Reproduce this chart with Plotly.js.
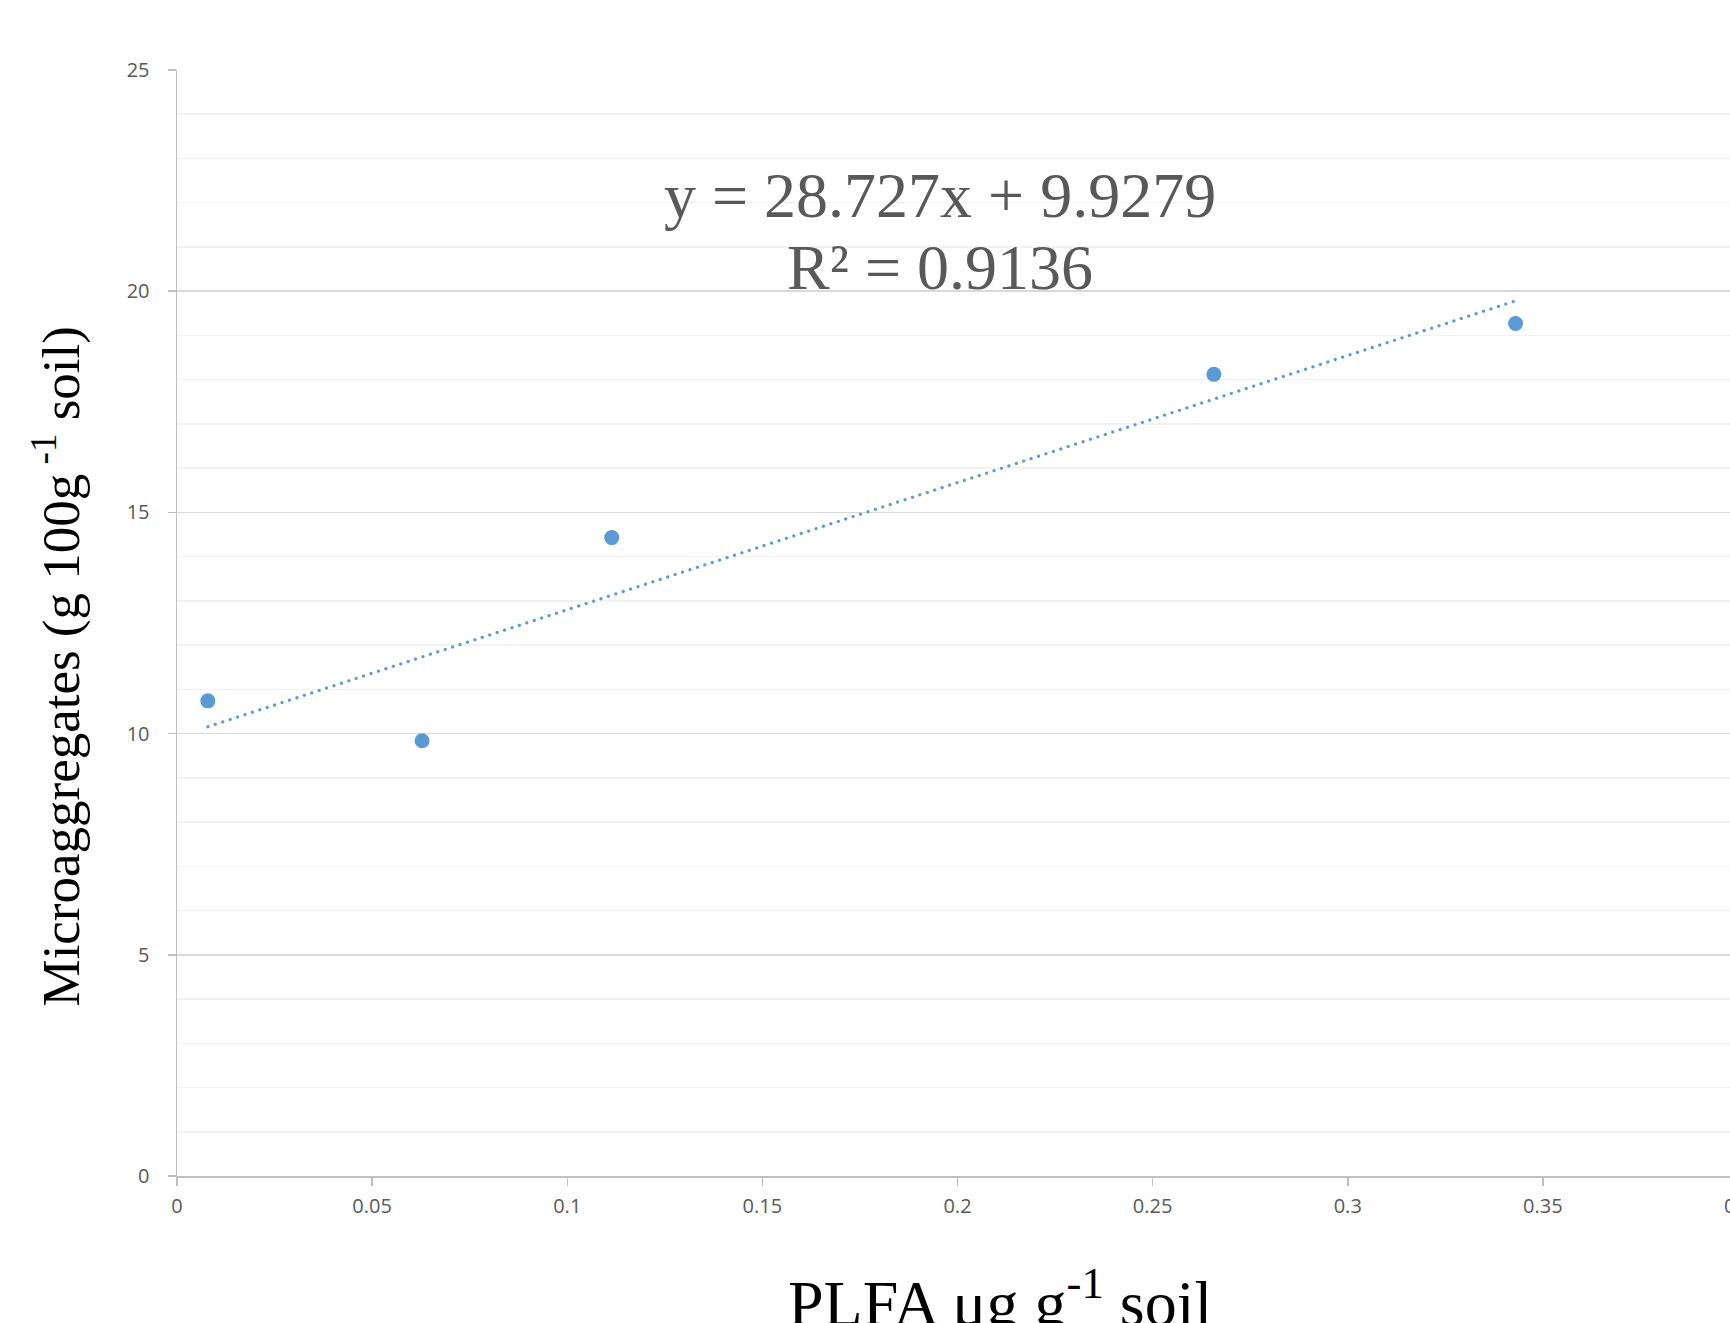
<!DOCTYPE html>
<html>
<head>
<meta charset="utf-8">
<script src="https://cdn.plot.ly/plotly-3.0.1.min.js"></script>
<style>
  html, body { margin: 0; padding: 0; overflow: hidden; background: #fff; }
  #chart { width: 1760px; height: 1400px; }
  .scatterlayer .trace:first-child .js-line { stroke-linecap: round !important; }
</style>
</head>
<body>
<div id="chart"></div>
<script>
// Data
const plfa = [0.0079, 0.0628, 0.1114, 0.2657, 0.3430];
const microaggregates = [10.74, 9.84, 14.43, 18.12, 19.27];
// Linear trendline coefficients shown on the chart
const slope = 28.727;
const intercept = 9.9279;
const rSquared = 0.9136;
const xTickVals = [0, 0.05, 0.1, 0.15, 0.2, 0.25, 0.3, 0.35, 0.4];
const xTickText = ['0', '0.05', '0.1', '0.15', '0.2', '0.25', '0.3', '0.35', '0.4'];
const yTickVals = [0, 5, 10, 15, 20, 25];

const xMin = Math.min(...plfa), xMax = Math.max(...plfa);
const trendX = [xMin, xMax];
const trendY = trendX.map(v => slope * v + intercept);

const blue = '#5b9bd5';
const traces = [
  {
    x: trendX, y: trendY, type: 'scatter', mode: 'lines',
    line: { color: blue, width: 3.2, dash: '0.1px,7.7px' },
    hoverinfo: 'skip', showlegend: false
  },
  {
    x: plfa, y: microaggregates, type: 'scatter', mode: 'markers',
    marker: { color: blue, size: 15 },
    showlegend: false
  }
];

const W = 1760, H = 1400;
const L = 177, T = 70, PW = 1561, PH = 1106;
const px = v => (v - L) / PW;
const py = v => (T + PH - v) / PH;

const tickFont = { family: 'Open Sans, sans-serif', size: 20, color: '#595959' };
const layout = {
  width: W, height: H,
  margin: { l: L, t: T, r: W - L - PW, b: H - T - PH, pad: 0 },
  paper_bgcolor: '#ffffff', plot_bgcolor: '#ffffff',
  showlegend: false,
  xaxis: {
    range: [0, 0.4], tickvals: xTickVals, ticktext: xTickText,
    showgrid: false, zeroline: false,
    showline: true, linecolor: '#bfbfbf', linewidth: 1.5,
    ticks: 'outside', ticklen: 8, tickcolor: '#bfbfbf', tickwidth: 1.5,
    tickfont: tickFont, ticklabelstandoff: 3
  },
  yaxis: {
    range: [0, 25], tickvals: yTickVals,
    showgrid: true, gridcolor: '#d9d9d9', gridwidth: 1.5,
    minor: { dtick: 1, showgrid: true, gridcolor: '#f2f2f2', gridwidth: 1.5 },
    zeroline: false,
    showline: true, linecolor: '#bfbfbf', linewidth: 1.5,
    ticks: 'outside', ticklen: 8, tickcolor: '#bfbfbf', tickwidth: 1.5,
    tickfont: tickFont, ticklabelstandoff: 14
  },
  annotations: [
    {
      text: 'y = ' + slope.toFixed(3) + 'x + ' + intercept.toFixed(4),
      xref: 'paper', yref: 'paper', x: px(940), y: py(195.4),
      xanchor: 'center', yanchor: 'middle', showarrow: false,
      font: { family: 'Liberation Serif, Times New Roman, serif', size: 64, color: '#595959' }
    },
    {
      text: 'R² = ' + rSquared.toFixed(4),
      xref: 'paper', yref: 'paper', x: px(940), y: py(267.4),
      xanchor: 'center', yanchor: 'middle', showarrow: false,
      font: { family: 'Liberation Serif, Times New Roman, serif', size: 64, color: '#595959' }
    },
    {
      text: 'Microaggregates (g 100g<sup> -1</sup> soil)',
      xref: 'paper', yref: 'paper', x: px(56.5), y: py(667),
      xanchor: 'center', yanchor: 'middle', textangle: -90, showarrow: false,
      font: { family: 'Liberation Serif, Times New Roman, serif', size: 53, color: '#000000' }
    },
    {
      text: 'PLFA μg g<sup>-1</sup> soil',
      xref: 'paper', yref: 'paper', x: px(1000), y: py(1298),
      xanchor: 'center', yanchor: 'middle', showarrow: false,
      font: { family: 'Liberation Serif, Times New Roman, serif', size: 64, color: '#000000' }
    }
  ]
};

Plotly.newPlot('chart', traces, layout, { displayModeBar: false, staticPlot: true });
</script>
</body>
</html>
